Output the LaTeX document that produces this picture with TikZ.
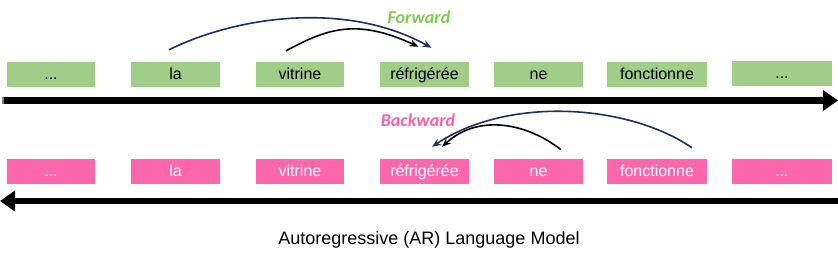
\documentclass[tikz,border=0pt]{standalone}
\usepackage{fontspec}
\setmainfont{Liberation Sans}
\newfontfamily\labfont{Carlito}
\usetikzlibrary{arrows.meta}
\definecolor{boxgreen}{HTML}{A0CD88}
\definecolor{boxpink}{HTML}{FF67AC}
\definecolor{fwdgreen}{HTML}{7FCB4E}
\definecolor{bwdpink}{HTML}{FF5FAA}
\definecolor{navy}{HTML}{1A2F63}
\tikzset{
  tok/.style={minimum height=25pt, inner sep=0pt, text height=12pt, text depth=3pt, font=\fontsize{16}{18}\selectfont},
  gtok/.style={tok, fill=boxgreen, text=black},
  ptok/.style={tok, fill=boxpink, text=white},
  bigarrow/.style={line width=6.5pt, -{Triangle[length=15pt,width=20pt]}},
  thinarrow/.style={line width=1.6pt, -{Stealth[length=9pt,width=7pt,inset=3pt]}},
  dirlabel/.style={font=\labfont\bfseries\itshape\fontsize{18}{20}\selectfont, inner sep=0pt}
}
\begin{document}
\begin{tikzpicture}[x=1pt,y=-1pt]
\useasboundingbox (0,0) rectangle (838,260);
% green row
\node[gtok, minimum width=88pt] (g1) at (51,74.5) {...};
\node[gtok, minimum width=89pt] (g2) at (175.5,74.5) {la};
\node[gtok, minimum width=88pt] (g3) at (300,74.5) {vitrine};
\node[gtok, minimum width=89pt] (g4) at (424.5,74.5) {réfrigérée};
\node[gtok, minimum width=89pt] (g5) at (538.5,74.5) {ne};
\node[gtok, minimum width=100pt] (g6) at (657,74.5) {fonctionne};
\node[gtok, minimum width=100pt] (g7) at (782,73.5) {...};
% pink row
\node[ptok, minimum width=88pt] (p1) at (51,171.5) {...};
\node[ptok, minimum width=89pt] (p2) at (175.5,171.5) {la};
\node[ptok, minimum width=88pt] (p3) at (300,171.5) {vitrine};
\node[ptok, minimum width=89pt] (p4) at (424.5,171.5) {réfrigérée};
\node[ptok, minimum width=89pt] (p5) at (538.5,171.5) {ne};
\node[ptok, minimum width=100pt] (p6) at (657,171.5) {fonctionne};
\node[ptok, minimum width=100pt] (p7) at (782,171.5) {...};
% big arrows
\coordinate (fa) at (2,100.5);
\coordinate (fb) at (838,100.5);
\draw[bigarrow] (fa) -- (fb);
\fill[gray] (2,97) rectangle (3.5,104);
\coordinate (ba) at (838,201);
\coordinate (bb) at (0,201);
\draw[bigarrow] (ba) -- (bb);
% labels
\node[dirlabel, text=fwdgreen] (fw) at (419,17) {Forward};
\node[dirlabel, text=bwdpink] (bw) at (418,120) {Backward};
\node[font=\fontsize{18}{20}\selectfont] (title) at (429,240) {Autoregressive (AR) Language Model};
% forward arcs
\draw[thinarrow, navy] ([xshift=-6.5pt,yshift=12pt]g2.north) .. controls (235,17) and (345,0) .. ([xshift=7pt,yshift=14pt]g4.north);
\draw[thinarrow, black] ([xshift=-14pt,yshift=11pt]g3.north) .. controls (325,30) and (355,17) .. ([xshift=-6pt,yshift=15pt]g4.north);
% backward arcs
\draw[thinarrow, black] ([xshift=22.5pt,yshift=9pt]p5.north) .. controls (530,125) and (480,112) .. ([xshift=17.5pt,yshift=12pt]p4.north);
\draw[thinarrow, navy] ([xshift=35pt,yshift=11pt]p6.north) .. controls (630,105) and (510,95) .. ([xshift=7.5pt,yshift=12pt]p4.north);
\end{tikzpicture}
\end{document}
